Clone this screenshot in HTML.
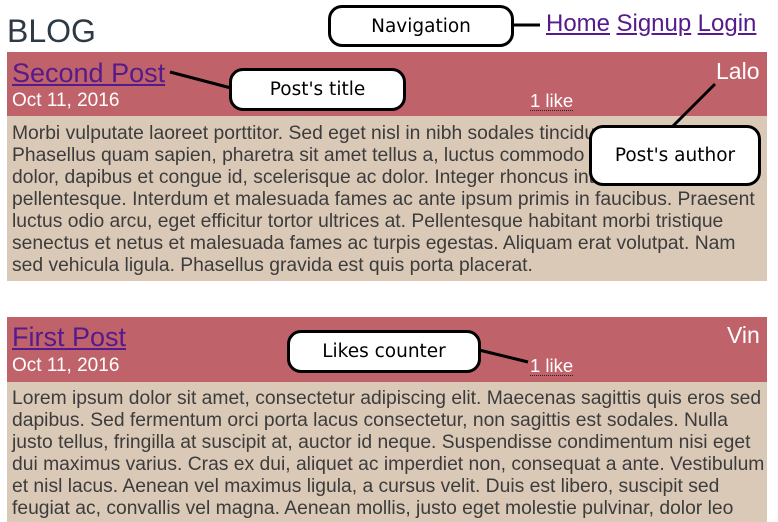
<!DOCTYPE html>
<html><head><meta charset="utf-8"><style>
*{margin:0;padding:0}
body{width:778px;height:516px;overflow:hidden;background:#fff;position:relative;font-family:"Liberation Sans",Arial,sans-serif}
.a{position:absolute;white-space:nowrap}
.hd{position:absolute;left:7px;width:760px;background:#c0626a}
.bd{position:absolute;left:7px;width:760px;background:#dbc9b7;color:#3c3c3c;font-size:19.3px;line-height:22px;padding:0 0 0 5px;box-sizing:border-box;overflow:hidden}
.bd div{white-space:nowrap}
.ti{color:#551a8b;text-decoration:underline;font-size:27px}
.dt{color:#fff;font-size:19px}
.lk{color:#fff;font-size:18.5px;border-bottom:1px dotted #222;line-height:19px}
.au{color:#fff;font-size:23px}
.co{position:absolute;background:#fff;border:3px solid #000;border-radius:14px;box-sizing:border-box;font-family:"DejaVu Sans",sans-serif;font-size:18.5px;color:#000;display:flex;align-items:center;justify-content:center}
.nv{color:#551a8b;text-decoration:underline;font-size:24px}
</style></head><body>
<div class="a" style="left:7px;top:13px;font-size:32px;color:#2d3a45">BLOG</div>
<div class="a" style="left:546px;top:10px;word-spacing:2px"><span class="nv">Home</span> <span class="nv">Signup</span> <span class="nv">Login</span></div>

<div class="hd" style="top:52px;height:64px"></div>
<div class="a ti" style="left:12px;top:58px">Second Post</div>
<div class="a dt" style="left:12px;top:90px">Oct 11, 2016</div>
<div class="a lk" style="left:530px;top:91px">1 like</div>
<div class="a au" style="left:716px;top:58px">Lalo</div>
<div class="bd" style="top:116px;height:165px;padding-top:7px">
<div>Morbi vulputate laoreet porttitor. Sed eget nisl in nibh sodales tincidunt.</div>
<div>Phasellus quam sapien, pharetra sit amet tellus a, luctus commodo dolor.</div>
<div>dolor, dapibus et congue id, scelerisque ac dolor. Integer rhoncus int</div>
<div>pellentesque. Interdum et malesuada fames ac ante ipsum primis in faucibus. Praesent</div>
<div>luctus odio arcu, eget efficitur tortor ultrices at. Pellentesque habitant morbi tristique</div>
<div>senectus et netus et malesuada fames ac turpis egestas. Aliquam erat volutpat. Nam</div>
<div>sed vehicula ligula. Phasellus gravida est quis porta placerat.</div>
</div>

<div class="hd" style="top:317px;height:65px"></div>
<div class="a ti" style="left:12px;top:322px">First Post</div>
<div class="a dt" style="left:12px;top:355px">Oct 11, 2016</div>
<div class="a lk" style="left:530px;top:356px">1 like</div>
<div class="a au" style="left:727px;top:322px">Vin</div>
<div class="bd" style="top:382px;height:140px;padding-top:6px">
<div>Lorem ipsum dolor sit amet, consectetur adipiscing elit. Maecenas sagittis quis eros sed</div>
<div>dapibus. Sed fermentum orci porta lacus consectetur, non sagittis est sodales. Nulla</div>
<div>justo tellus, fringilla at suscipit at, auctor id neque. Suspendisse condimentum nisi eget</div>
<div>dui maximus varius. Cras ex dui, aliquet ac imperdiet non, consequat a ante. Vestibulum</div>
<div>et nisl lacus. Aenean vel maximus ligula, a cursus velit. Duis est libero, suscipit sed</div>
<div>feugiat ac, convallis vel magna. Aenean mollis, justo eget molestie pulvinar, dolor leo</div>
</div>

<svg class="a" style="left:0;top:0" width="778" height="516">
<g stroke="#000" stroke-width="3">
<line x1="512" y1="25" x2="540" y2="25"/>
<line x1="170" y1="72" x2="231" y2="88"/>
<line x1="715" y1="84" x2="673" y2="126"/>
<line x1="479" y1="350" x2="528" y2="362"/>
</g></svg>
<div class="co" style="left:328px;top:5px;width:186px;height:42px">Navigation</div>
<div class="co" style="left:229px;top:68px;width:177px;height:43px">Post's title</div>
<div class="co" style="left:589px;top:125px;width:172px;height:61px">Post's author</div>
<div class="co" style="left:287px;top:330px;width:194px;height:43px">Likes counter</div>
</body></html>
